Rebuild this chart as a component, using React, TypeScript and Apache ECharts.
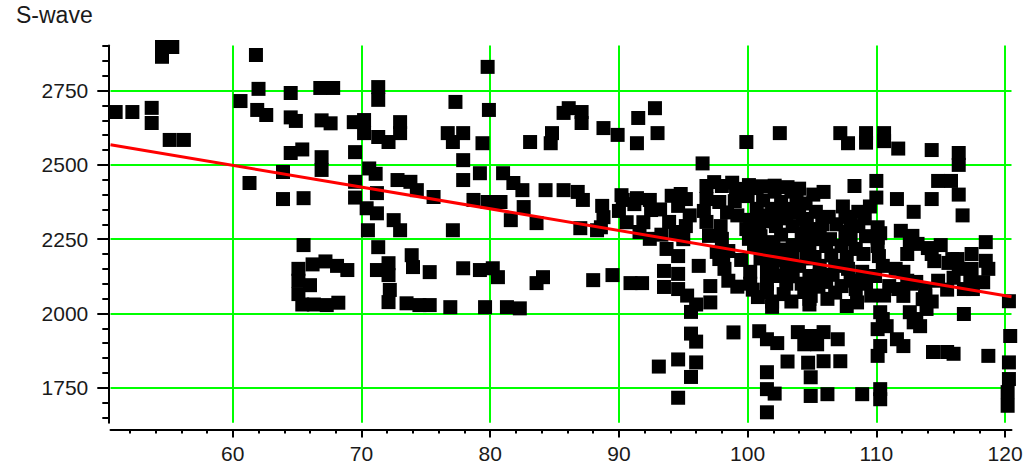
import { useEffect, useRef } from "react"
import * as echarts from "echarts"

// axis ranges and tick values
const xRange = [50.5, 120.5]
const yRange = [1632, 2902]
const xMajorTicks = [60, 70, 80, 90, 100, 110, 120]
const xMinorTicks = [52, 54, 56, 58, 60, 62, 64, 66, 68, 70, 72, 74, 76, 78, 80, 82, 84, 86, 88, 90, 92, 94, 96, 98, 100, 102, 104, 106, 108, 110, 112, 114, 116, 118, 120]
const yMajorTicks = [1750, 2000, 2250, 2500, 2750]
const yMinorTicks = [1650, 1700, 1750, 1800, 1850, 1900, 1950, 2000, 2050, 2100, 2150, 2200, 2250, 2300, 2350, 2400, 2450, 2500, 2550, 2600, 2650, 2700, 2750, 2800, 2850, 2900]

// S-wave samples
const swavePoints: [number, number][] = [
  // 50 - 60
  [50.9, 2678], [52.2, 2678], [53.7, 2692], [53.7, 2641], [55.1, 2584], [56.2, 2584], [54.5, 2897], [54.5, 2864], [55.3, 2897],
  // 60 - 70
  [60.6, 2715], [61.8, 2870], [62.0, 2756], [61.9, 2685], [62.6, 2668], [64.5, 2742], [64.5, 2660], [64.9, 2648], [66.8, 2759], [67.8, 2759],
  [66.9, 2650], [67.6, 2640], [64.5, 2540], [65.4, 2552], [66.9, 2526], [66.9, 2483], [63.9, 2476], [61.3, 2439], [63.9, 2385], [65.5, 2388], [65.5, 2230],
  [65.1, 2150], [65.1, 2110], [65.1, 2065], [65.4, 2030], [66.2, 2165], [67.2, 2175], [68.1, 2160], [68.9, 2146], [66.3, 2030], [67.3, 2028], [68.2, 2036], [66.0, 2095],
  // 69 - 80 upper
  [71.3, 2762], [71.3, 2719], [77.3, 2712], [79.8, 2830], [79.9, 2685], [69.4, 2644], [70.2, 2651], [70.2, 2607], [71.3, 2594], [72.1, 2577],
  [73.0, 2644], [73.0, 2607], [69.5, 2543], [76.7, 2607], [77.9, 2607], [77.1, 2577], [79.4, 2573],
  // 83 - 93 upper
  [83.1, 2577], [84.8, 2607], [84.7, 2573], [86.1, 2691], [85.7, 2675], [87.1, 2678], [87.1, 2641], [88.8, 2624], [89.9, 2601], [91.5, 2658],
  [92.8, 2691], [93.0, 2607], [91.4, 2573],
  // 69 - 93 middle
  [70.6, 2488], [71.1, 2470], [69.5, 2443], [69.5, 2390], [70.4, 2354], [71.2, 2337], [71.2, 2405], [70.5, 2280], [72.8, 2449], [73.8, 2443],
  [74.3, 2415], [75.6, 2392], [72.5, 2314], [73.0, 2280], [77.1, 2280], [77.9, 2516], [77.9, 2449], [79.2, 2472], [78.7, 2382], [79.8, 2375],
  [80.8, 2375], [81.0, 2472], [81.8, 2439], [82.5, 2415], [81.6, 2314], [82.6, 2358], [83.6, 2304], [84.3, 2415], [85.7, 2415], [86.8, 2409],
  [87.2, 2382], [88.7, 2362], [88.8, 2324], [88.6, 2290], [87.0, 2287], [88.3, 2280], [90.3, 2382], [91.4, 2388], [92.4, 2382], [90.6, 2307],
  [91.9, 2307], [91.6, 2274], [92.4, 2251], [90.2, 2398], [91.2, 2368], [92.5, 2348], [90.0, 2345],
  // 70 - 92 lower
  [71.3, 2223], [72.1, 2169], [72.1, 2129], [71.2, 2146], [72.2, 2079], [72.1, 2038], [73.9, 2196], [74.0, 2156], [75.3, 2139], [73.5, 2034],
  [74.5, 2028], [75.3, 2028], [76.9, 2021], [77.9, 2152], [79.2, 2146], [80.2, 2152], [80.6, 2122], [79.6, 2021], [81.3, 2021], [82.3, 2017],
  [83.6, 2102], [84.1, 2122], [88.0, 2112], [89.5, 2129], [90.9, 2102], [91.8, 2102],
  // 93 - 100
  [96.5, 2505], [94.1, 2396], [94.6, 2362], [95.2, 2385], [93.9, 2308], [94.4, 2274], [95.2, 2294], [93.7, 2217], [94.6, 2193], [93.5, 2143],
  [94.6, 2133], [94.6, 2082], [93.5, 2089], [96.2, 2160], [96.8, 2429], [98.0, 2429], [96.8, 2385], [97.8, 2375], [96.8, 2308], [97.9, 2294],
  [97.0, 2261], [98.0, 2251], [97.6, 2207], [97.8, 2183], [98.2, 2150], [99.4, 2419], [94.8, 2402],
  [93.2, 2350], [93.3, 2265], [95.5, 2330], [95.0, 2250], [96.6, 2345], [98.4, 2340], [97.4, 2442], [98.8, 2440],
  [95.3, 2060], [96.0, 2030], [95.6, 2005], [97.1, 2037], [97.1, 2092], [98.1, 2193], [98.5, 2110], [99.2, 2090], [98.5, 2210], [99.5, 2180],
  [95.6, 1932], [96.0, 1905], [98.9, 1936], [93.1, 1821], [94.6, 1845], [96.0, 1835], [95.6, 1786], [94.6, 1716],
  // 99 - 110 dense block
  [99.1, 2418], [100.1, 2432], [101.1, 2428], [102.1, 2430], [103.1, 2425], [104.0, 2420], [99.0, 2378], [100.0, 2395], [101.2, 2380], [102.6, 2375],
  [104.5, 2370], [99.2, 2330], [100.2, 2315], [101.6, 2310], [103.0, 2320], [104.6, 2300], [105.8, 2300], [106.9, 2300], [108.0, 2310], [109.1, 2320],
  [101.0, 2260], [102.6, 2265], [104.2, 2270], [106.4, 2250], [108.0, 2250], [109.2, 2260], [101.2, 2215], [103.0, 2215], [104.5, 2230], [105.5, 2250],
  [101.0, 2185], [102.5, 2180], [104.6, 2185], [105.2, 2190], [106.5, 2195], [107.7, 2190], [109.0, 2200], [100.2, 2140], [101.5, 2140], [103.5, 2125],
  [105.6, 2130], [106.6, 2130], [108.0, 2110], [109.2, 2100], [100.2, 2100], [101.5, 2100], [103.0, 2100], [104.2, 2100], [105.0, 2095],
  [103.4, 2040], [104.8, 2030], [106.8, 2070], [109.6, 2060], [110.3, 2270],
  // 100 - 105
  [99.9, 2577], [102.5, 2607], [99.7, 2419], [100.7, 2422], [102.1, 2410], [103.4, 2410], [103.8, 2385], [100.7, 2352], [101.9, 2352], [103.3, 2352],
  [101.0, 2330], [102.5, 2330], [104.0, 2340], [99.9, 2284], [100.9, 2294], [102.2, 2294], [103.5, 2294], [104.3, 2318], [100.1, 2251], [100.5, 2225],
  [102.0, 2240], [103.5, 2230], [102.0, 2200], [103.5, 2195], [101.9, 2173], [103.0, 2150], [104.0, 2160], [102.5, 2126],
  [100.4, 2080], [101.5, 2071], [102.8, 2065], [104.4, 2072], [100.8, 2055], [101.9, 2040], [101.9, 2022], [104.8, 2049],
  [100.9, 1940], [101.5, 1913], [102.3, 1900], [103.1, 1838], [103.9, 1937], [104.9, 1924], [105.9, 1937], [107.0, 1913], [104.4, 1896], [105.4, 1896],
  [105.9, 1839], [107.2, 1839], [101.5, 1802], [101.5, 1745], [101.5, 1667], [102.1, 1730], [104.7, 1834], [104.9, 1785], [104.9, 1722], [106.2, 1728],
  [108.9, 1728],
  // 104 - 110
  [105.1, 2400], [105.9, 2409], [107.2, 2607], [107.8, 2573], [109.2, 2607], [109.2, 2575], [110.6, 2607], [110.6, 2580], [111.7, 2555], [108.3, 2429],
  [110.0, 2446], [110.0, 2390], [105.3, 2342], [106.3, 2325], [107.6, 2325], [108.6, 2342], [107.6, 2274], [108.6, 2294], [105.6, 2284], [104.6, 2274],
  [106.1, 2227], [107.3, 2227], [108.4, 2217], [104.8, 2207], [105.6, 2160], [106.8, 2160], [107.8, 2150], [108.9, 2140], [104.8, 2126], [106.1, 2106],
  [107.3, 2092], [108.4, 2082], [109.9, 2126], [109.0, 2126], [107.4, 2360], [109.5, 2360],
  [104.9, 2059], [106.2, 2049], [107.7, 2025], [108.5, 2037], [105.5, 2090],
  // 110 - 120
  [110.1, 2290], [110.1, 2255], [110.1, 2227], [110.2, 2193], [111.0, 2092], [111.7, 2082], [111.6, 2385], [112.9, 2342], [114.3, 2385], [114.3, 2550],
  [116.4, 2540], [116.4, 2500], [114.8, 2446], [115.8, 2446], [116.4, 2400], [111.9, 2278], [112.8, 2261], [113.2, 2234], [112.4, 2200], [114.5, 2176],
  [115.6, 2170], [115.9, 2183], [116.3, 2183], [117.4, 2200], [118.5, 2240], [118.5, 2177], [116.4, 2150], [117.4, 2150], [118.7, 2150], [116.0, 2120],
  [117.3, 2120], [116.8, 2082], [117.5, 2082], [113.8, 2059], [112.7, 2100], [113.8, 2080], [114.3, 2040], [112.1, 2140], [112.1, 2059], [113.1, 2106],
  [113.6, 2048], [112.6, 2004], [113.1, 1981], [113.9, 2015], [113.4, 1957], [112.9, 1970], [110.3, 2004], [110.5, 1981], [110.8, 1957], [111.6, 1913],
  [112.1, 1890], [110.1, 1947], [110.3, 1890], [110.1, 1857], [110.3, 1745], [110.3, 1711], [114.4, 1870], [115.5, 1870], [116.0, 1864], [118.7, 1857],
  [116.8, 1998], [120.4, 1924], [120.3, 1835], [120.3, 1779], [120.2, 1735], [120.2, 1689], [120.3, 2041],
  [110.5, 2160], [111.5, 2150], [112.4, 2110], [110.6, 2060], [114.0, 2220], [115.0, 2230], [114.8, 2110], [115.5, 2080], [118.3, 2105],
  [112.6, 2245], [114.3, 2200], [116.7, 2330],
]

// fitted trend (red line) end points
const trendLine: [number, number][] = [[50.5, 2568], [120.5, 2056]]

const labelFont = { fontFamily: "Liberation Sans, Arial, sans-serif", fontSize: 21, color: "#1a1a1a" }

export default function App() {
  const chartRef = useRef<HTMLDivElement>(null)

  useEffect(() => {
    if (!chartRef.current) return
    const chart = echarts.init(chartRef.current, undefined, { renderer: "svg" })

    const option = {
      animation: false,
      backgroundColor: "#ffffff",
      title: {
        text: "S-wave",
        left: 16,
        top: 3,
        padding: 0,
        textStyle: { ...labelFont, fontSize: 23, fontWeight: "normal" },
      },
      grid: { left: 110.5, right: 12.5, top: 45.5, bottom: 48.3, outerBoundsMode: "none" },
      xAxis: [
        {
          type: "value",
          position: "bottom",
          offset: 6.8,
          min: xRange[0],
          max: xRange[1],
          axisLine: { show: true, onZero: false, lineStyle: { color: "#000", width: 2 } },
          axisTick: { show: true, customValues: xMajorTicks, length: 8, lineStyle: { color: "#000", width: 2 } },
          axisLabel: { show: true, customValues: xMajorTicks, margin: 13, formatter: (v: number) => String(v), ...labelFont },
          splitLine: { show: true, lineStyle: { color: "#00ff00", width: 2 } },
        },
        {
          type: "value",
          position: "bottom",
          offset: 6.8,
          min: xRange[0],
          max: xRange[1],
          axisLine: { show: false, onZero: false },
          axisTick: { show: true, customValues: xMinorTicks, length: 4, lineStyle: { color: "#000", width: 2 } },
          axisLabel: { show: false },
          splitLine: { show: false },
        },
      ],
      yAxis: [
        {
          type: "value",
          position: "left",
          offset: 2.2,
          min: yRange[0],
          max: yRange[1],
          axisLine: { show: true, onZero: false, lineStyle: { color: "#000", width: 2 } },
          axisTick: { show: true, customValues: yMajorTicks, length: 11, lineStyle: { color: "#000", width: 2 } },
          axisLabel: { show: true, customValues: yMajorTicks, margin: 20, formatter: (v: number) => String(v), ...labelFont },
          splitLine: { show: true, lineStyle: { color: "#00ff00", width: 2 } },
        },
        {
          type: "value",
          position: "left",
          offset: 2.2,
          min: yRange[0],
          max: yRange[1],
          axisLine: { show: false, onZero: false },
          axisTick: { show: true, customValues: yMinorTicks, length: 6, lineStyle: { color: "#000", width: 2 } },
          axisLabel: { show: false },
          splitLine: { show: false },
        },
      ],
      series: [
        {
          name: "S-wave",
          type: "scatter",
          data: swavePoints,
          symbol: "rect",
          symbolSize: 14,
          clip: false,
          itemStyle: { color: "#000000", opacity: 1 },
          z: 3,
        },
        {
          name: "trend",
          type: "line",
          data: trendLine,
          symbol: "none",
          lineStyle: { color: "#ff0000", width: 3 },
          z: 4,
        },
      ],
    }

    chart.setOption(option as echarts.EChartsOption)
    return () => {
      chart.dispose()
    }
  }, [])

  return (
    <div
      ref={chartRef}
      style={{ position: "absolute", left: 0, top: 0, width: "1024px", height: "471px", background: "#fff" }}
    />
  )
}
